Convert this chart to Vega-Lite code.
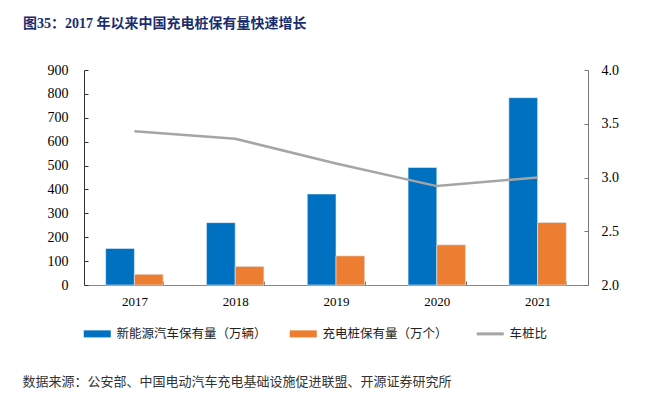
{
  "$schema": "https://vega.github.io/schema/vega-lite/v6.json",
  "autosize": "none",
  "padding": {"left": 84, "top": 70, "right": 60, "bottom": 113},
  "width": 504,
  "height": 215,
  "background": "white",
  "config": {
    "view": {"stroke": null},
    "axis": {"grid": false, "labelFont": "Liberation Serif", "labelColor": "#000"}
  },
  "title": {
    "text": "图35：2017 年以来中国充电桩保有量快速增长",
    "anchor": "start",
    "frame": "group",
    "dx": -61,
    "offset": 32,
    "fontSize": 14,
    "fontWeight": "bold",
    "color": "#1a2d6e",
    "font": "Liberation Serif, Noto Sans CJK SC"
  },
  "data": {
    "values": [
      {"year": "2017", "series": "新能源汽车保有量（万辆）", "value": 153},
      {"year": "2018", "series": "新能源汽车保有量（万辆）", "value": 261},
      {"year": "2019", "series": "新能源汽车保有量（万辆）", "value": 381},
      {"year": "2020", "series": "新能源汽车保有量（万辆）", "value": 492},
      {"year": "2021", "series": "新能源汽车保有量（万辆）", "value": 784},
      {"year": "2017", "series": "充电桩保有量（万个）", "value": 45},
      {"year": "2018", "series": "充电桩保有量（万个）", "value": 78},
      {"year": "2019", "series": "充电桩保有量（万个）", "value": 122},
      {"year": "2020", "series": "充电桩保有量（万个）", "value": 168},
      {"year": "2021", "series": "充电桩保有量（万个）", "value": 262},
      {"year": "2017", "series": "车桩比", "value": 3.43},
      {"year": "2018", "series": "车桩比", "value": 3.36},
      {"year": "2019", "series": "车桩比", "value": 3.13},
      {"year": "2020", "series": "车桩比", "value": 2.92},
      {"year": "2021", "series": "车桩比", "value": 3.0}
    ]
  },
  "encoding": {
    "x": {
      "field": "year",
      "type": "nominal",
      "scale": {"paddingInner": 0.43, "paddingOuter": 0.215},
      "axis": {
        "tickBand": "extent",
        "tickSize": -4,
        "labelPadding": 14,
        "labelAngle": 0,
        "domainColor": "#888",
        "tickColor": "#666",
        "labelFontSize": 13,
        "title": "数据来源：公安部、中国电动汽车充电基础设施促进联盟、开源证券研究所",
        "titleX": -62,
        "titleY": 96,
        "titleAlign": "left",
        "titleBaseline": "middle",
        "titleFont": "Noto Sans CJK SC",
        "titleFontSize": 13,
        "titleFontWeight": "normal",
        "titleColor": "#333"
      }
    },
    "color": {
      "field": "series",
      "type": "nominal",
      "scale": {
        "domain": ["新能源汽车保有量（万辆）", "充电桩保有量（万个）", "车桩比"],
        "range": ["#0070C0", "#ED7D31", "#A5A5A5"]
      },
      "legend": {
        "orient": "none",
        "legendX": 7,
        "legendY": 257.5,
        "direction": "horizontal",
        "title": null,
        "symbolSize": 729,
        "labelOffset": 13,
        "columnPadding": 22,
        "labelFont": "Noto Sans CJK SC",
        "labelFontSize": 12.5,
        "labelColor": "#222",
        "padding": 0,
        "encode": {
          "symbols": {
            "update": {
              "shape": {"signal": "datum.value === '车桩比' ? 'M-1,0H1' : 'M-1,-0.26H1V0.26H-1Z'"},
              "fill": {"signal": "datum.value === '车桩比' ? 'transparent' : datum.value === '充电桩保有量（万个）' ? '#ED7D31' : '#0070C0'"},
              "stroke": {"signal": "datum.value === '车桩比' ? '#A5A5A5' : 'transparent'"},
              "strokeWidth": {"signal": "datum.value === '车桩比' ? 3 : 0"},
              "opacity": {"value": 1}
            }
          }
        }
      }
    }
  },
  "layer": [
    {
      "transform": [{"filter": "datum.series !== '车桩比'"}],
      "mark": {"type": "bar", "stroke": "#e3eef8", "strokeWidth": 0.6},
      "encoding": {
        "xOffset": {
          "field": "series",
          "type": "nominal",
          "sort": ["新能源汽车保有量（万辆）", "充电桩保有量（万个）"],
          "scale": {"paddingInner": 0, "paddingOuter": 0}
        },
        "y": {
          "field": "value",
          "type": "quantitative",
          "scale": {"domain": [0, 900], "nice": false},
          "axis": {
            "orient": "left",
            "values": [0, 100, 200, 300, 400, 500, 600, 700, 800, 900],
            "tickSize": -4,
            "labelPadding": 20,
            "domainColor": "#333",
            "tickColor": "#333",
            "title": null,
            "labelFontSize": 14
          }
        }
      }
    },
    {
      "transform": [{"filter": "datum.series === '车桩比'"}],
      "mark": {"type": "line", "strokeWidth": 2.5},
      "encoding": {
        "y": {
          "field": "value",
          "type": "quantitative",
          "scale": {"domain": [2, 4], "nice": false, "zero": false},
          "axis": {
            "orient": "right",
            "values": [2, 2.5, 3, 3.5, 4],
            "format": ".1f",
            "tickSize": -4,
            "labelPadding": 17,
            "domainColor": "#777",
            "tickColor": "#777",
            "title": null,
            "labelFontSize": 14
          }
        }
      }
    }
  ],
  "resolve": {"scale": {"y": "independent"}}
}
